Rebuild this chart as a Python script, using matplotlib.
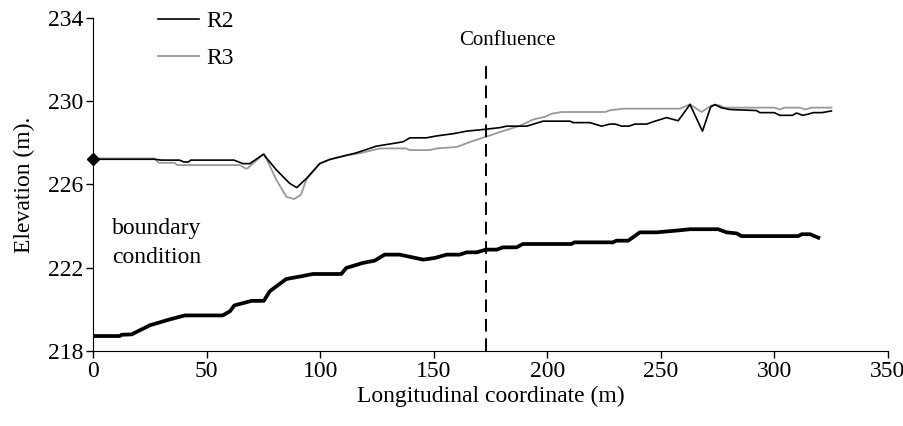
import matplotlib
matplotlib.use("Agg")
import matplotlib.pyplot as plt

plt.rcParams['font.family'] = ['Liberation Serif', 'DejaVu Serif']

# water surface, run R2
r2_x = [0, 12, 27, 30, 38, 40, 42, 43, 62, 66, 69, 75, 80.8, 86.6, 89.7, 94, 99.8,
        104.2, 111.6, 116, 124.8, 132.2, 136.6, 139.5, 146.8, 151.3, 158.7, 164.5,
        171.9, 179.2, 182.2, 191, 198.2, 210, 211.5, 218.8, 224, 227.6, 230, 232.8,
        236, 238.6, 243.8, 247.5, 252.6, 257.7, 262.9, 268.4, 272, 273.9, 276.8,
        280.5, 292.2, 293.7, 300, 302.5, 308, 309.9, 312.6, 315, 317.2, 321, 325.2]
r2_y = [227.21, 227.21, 227.21, 227.17, 227.17, 227.08, 227.08, 227.17, 227.17,
        227.0, 227.0, 227.45, 226.69, 226.05, 225.85, 226.29, 227.0, 227.2, 227.4,
        227.52, 227.84, 227.97, 228.05, 228.24, 228.24, 228.33, 228.44, 228.56,
        228.64, 228.73, 228.8, 228.8, 229.04, 229.04, 228.97, 228.97, 228.8, 228.9,
        228.9, 228.8, 228.8, 228.9, 228.9, 229.04, 229.21, 229.06, 229.84, 228.56,
        229.72, 229.84, 229.68, 229.6, 229.55, 229.45, 229.45, 229.32, 229.32,
        229.43, 229.32, 229.38, 229.45, 229.45, 229.53]

# water surface, run R3
r3_x = [0, 27, 29, 36, 37, 64.7, 67, 68, 75.3, 80.8, 85.2, 88.5, 91.5, 94, 99.8,
        104.2, 111.6, 117.5, 126.3, 137.8, 139.5, 148.3, 151.3, 160.2, 166, 171.9,
        179.2, 188, 193.9, 199, 202, 206.4, 225.5, 227.6, 233.5, 258.5, 262.9, 268,
        272.4, 276, 278, 300.3, 302.5, 304.5, 311.5, 313.5, 316.5, 325.2]
r3_y = [227.25, 227.25, 227.04, 227.04, 226.93, 226.93, 226.77, 226.77, 227.48,
        226.2, 225.4, 225.3, 225.5, 226.25, 227.0, 227.2, 227.4, 227.5, 227.73,
        227.73, 227.65, 227.65, 227.73, 227.8, 228.04, 228.25, 228.52, 228.82,
        229.12, 229.25, 229.4, 229.48, 229.48, 229.56, 229.64, 229.64, 229.85,
        229.48, 229.8, 229.8, 229.69, 229.69, 229.6, 229.69, 229.69, 229.6, 229.69,
        229.69]

# channel bed
bed_x = [0, 11.8, 12.5, 17, 25.1, 33.8, 40.4, 57.1, 60.3, 62.2, 69.8, 75.2, 77.8,
         85.1, 91.7, 96.8, 109.3, 111.5, 118.8, 124, 128.4, 135, 145.4, 150.5,
         155.7, 161.5, 164.5, 169, 173, 177.8, 180.5, 186.5, 189.3, 210.7, 212, 229,
         230.5, 235.7, 240.8, 248.2, 258.5, 262.9, 275.3, 279, 283.4, 285.6, 310.6,
         312.1, 315.8, 320.2]
bed_y = [218.72, 218.72, 218.78, 218.8, 219.24, 219.52, 219.71, 219.71, 219.91,
         220.19, 220.41, 220.41, 220.87, 221.46, 221.59, 221.7, 221.7, 221.99,
         222.23, 222.34, 222.63, 222.63, 222.39, 222.47, 222.63, 222.63, 222.74,
         222.74, 222.87, 222.87, 222.98, 222.98, 223.14, 223.14, 223.22, 223.22,
         223.3, 223.3, 223.7, 223.7, 223.8, 223.85, 223.85, 223.7, 223.65, 223.52,
         223.52, 223.61, 223.61, 223.41]

bc_x, bc_y = 0, 227.2
confluence_x = 173

fig = plt.figure(figsize=(9.04, 4.26), dpi=100)
ax = fig.add_axes([0.103, 0.176, 0.879, 0.782])

ax.plot(r2_x, r2_y, color='black', lw=1.2, label='R2', zorder=3)
ax.plot(r3_x, r3_y, color='#999999', lw=1.3, label='R3', zorder=2)
ax.plot(bed_x, bed_y, color='black', lw=2.7, solid_capstyle='butt')
ax.plot([bc_x], [bc_y], marker='D', color='black', ms=6, clip_on=False, zorder=5)
ax.plot([confluence_x, confluence_x], [218, 232], color='black', lw=1.4,
        dashes=(6.5, 3.5))

ax.text(182.5, 232.9, 'Confluence', fontsize=15, ha='center', va='center')
ax.text(8.4, 223.18, 'boundary\ncondition', fontsize=17, ha='left', va='center',
        linespacing=1.5)

ax.set_xlim(0, 350)
ax.set_ylim(218, 234)
ax.set_xticks(range(0, 351, 50))
ax.set_yticks([218, 222, 226, 230, 234])
ax.tick_params(direction='out', length=5, width=1, labelsize=17, pad=2)
for s in ['top', 'right']:
    ax.spines[s].set_visible(False)
ax.set_xlabel('Longitudinal coordinate (m)', fontsize=17, labelpad=3)
ax.set_ylabel('Elevation (m).', fontsize=17, labelpad=9)

ax.legend(loc='upper left', bbox_to_anchor=(0.055, 1.085), frameon=False,
          fontsize=17, handlelength=1.75, handletextpad=0.3, labelspacing=0.66)

fig.savefig('out.png', dpi=100)
